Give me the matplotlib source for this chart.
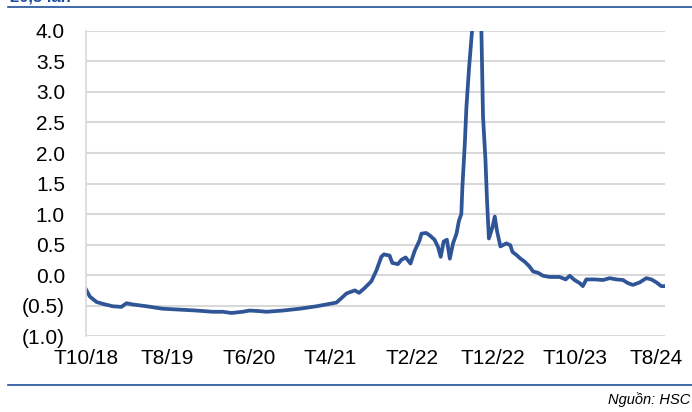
import matplotlib
matplotlib.use('Agg')
import matplotlib.pyplot as plt
import pandas as pd
from matplotlib.ticker import FuncFormatter

plt.rcParams['font.family'] = ['Liberation Sans', 'DejaVu Sans']

# P/E premium (x lan)
dates = [
    '2018-10-01', '2018-10-16', '2018-11-10', '2018-12-03', '2019-01-10', '2019-02-11',
    '2019-03-02', '2019-03-25', '2019-05-16', '2019-07-15', '2019-09-17', '2019-11-18',
    '2020-01-18', '2020-02-25', '2020-03-28', '2020-05-09', '2020-06-04', '2020-07-12',
    '2020-08-06', '2020-10-06', '2020-12-08', '2021-02-09', '2021-03-18', '2021-04-24',
    '2021-05-07', '2021-06-01', '2021-07-02', '2021-07-18', '2021-08-08', '2021-09-02',
    '2021-09-21', '2021-10-09', '2021-10-19', '2021-11-09', '2021-11-19', '2021-12-10',
    '2021-12-23', '2022-01-08', '2022-01-26', '2022-02-11', '2022-03-01', '2022-03-08',
    '2022-03-26', '2022-04-08', '2022-04-26', '2022-05-09', '2022-05-19', '2022-05-30',
    '2022-06-11', '2022-06-22', '2022-07-04', '2022-07-17', '2022-07-26', '2022-08-04',
    '2022-08-08', '2022-08-17', '2022-08-23', '2022-09-02', '2022-09-13', '2022-09-23',
    '2022-09-30', '2022-10-08', '2022-10-18', '2022-10-24', '2022-11-02', '2022-11-08',
    '2022-11-15', '2022-11-28', '2022-12-07', '2022-12-15', '2022-12-28', '2023-01-19',
    '2023-02-03', '2023-02-11', '2023-02-26', '2023-03-13', '2023-03-29', '2023-04-16',
    '2023-04-29', '2023-05-17', '2023-06-05', '2023-06-30', '2023-08-06', '2023-08-29',
    '2023-09-13', '2023-10-01', '2023-10-20', '2023-11-01', '2023-11-14', '2023-12-15',
    '2024-01-15', '2024-02-09', '2024-03-05', '2024-03-30', '2024-04-17', '2024-05-06',
    '2024-05-31', '2024-06-25', '2024-07-14', '2024-08-02', '2024-08-20', '2024-09-02',
]
values = [
    -0.23, -0.35, -0.44, -0.47, -0.51, -0.52,
    -0.46, -0.48, -0.51, -0.55, -0.565, -0.58,
    -0.60, -0.60, -0.62, -0.60, -0.58, -0.59,
    -0.60, -0.58, -0.55, -0.51, -0.48, -0.45,
    -0.40, -0.30, -0.25, -0.29, -0.21, -0.10,
    0.08, 0.30, 0.34, 0.32, 0.20, 0.18,
    0.25, 0.29, 0.19, 0.40, 0.57, 0.68,
    0.69, 0.65, 0.58, 0.46, 0.30, 0.55,
    0.58, 0.27, 0.52, 0.68, 0.89, 1.00,
    1.45, 2.15, 2.75, 3.40, 4.00, 9.00,
    20.5, 12.0, 4.00, 2.60, 1.90, 1.22,
    0.60, 0.78, 0.96, 0.73, 0.47, 0.52,
    0.49, 0.38, 0.33, 0.27, 0.22, 0.14,
    0.06, 0.04, -0.01, -0.03, -0.03, -0.07,
    -0.01, -0.08, -0.13, -0.18, -0.07, -0.07,
    -0.08, -0.05, -0.07, -0.08, -0.13, -0.16,
    -0.12, -0.05, -0.07, -0.12, -0.18, -0.18,
]
tick_dates = ['2018-10-01', '2019-08-01', '2020-06-01', '2021-04-01',
              '2022-02-01', '2022-12-01', '2023-10-01', '2024-08-01']
tick_labels = ['T10/18', 'T8/19', 'T6/20', 'T4/21', 'T2/22', 'T12/22', 'T10/23', 'T8/24']

x = pd.to_datetime(dates)

fig = plt.figure(figsize=(6.92, 4.12), dpi=100)
ax = fig.add_axes([0.124, 0.184, 0.837, 0.741])

ax.plot(x, values, color='#2F5597', linewidth=2.7, solid_joinstyle='round')

ax.set_ylim(-1.0, 4.0)
ax.set_yticks([-1.0, -0.5, 0.0, 0.5, 1.0, 1.5, 2.0, 2.5, 3.0, 3.5, 4.0])
ax.yaxis.set_major_formatter(FuncFormatter(
    lambda v, p: '(%.1f)' % abs(v) if v < 0 else '%.1f' % v))
ax.set_xlim(pd.Timestamp('2018-10-01'), pd.Timestamp('2024-09-03'))
ax.set_xticks(pd.to_datetime(tick_dates))
ax.set_xticklabels(tick_labels)

ax.grid(axis='y', color='#d9d9d9', linewidth=1.5)
ax.set_axisbelow(True)
for s in ['top', 'right', 'bottom']:
    ax.spines[s].set_visible(False)
ax.spines['left'].set_color('#d9d9d9')
ax.spines['left'].set_linewidth(1.2)
ax.tick_params(axis='both', length=0, labelsize=15, colors='black')
ax.tick_params(axis='y', pad=15)
ax.tick_params(axis='x', pad=9)

# header / footer rules and texts
fig.add_artist(plt.Line2D([8 / 692, 1.0], [1 - 7 / 412, 1 - 7 / 412],
                          color='#1F4E99', linewidth=1.2))
fig.add_artist(plt.Line2D([8 / 692, 1.0], [1 - 385 / 412, 1 - 385 / 412],
                          color='#1F4E99', linewidth=1.2))
fig.text(10 / 692, 1 - 1.5 / 412, '20,5 lần', color='#1F4E99', fontsize=12,
         fontweight='bold', va='baseline', ha='left')
fig.text(690 / 692, 1 - 400 / 412, 'Nguồn: HSC', fontsize=10.5, style='italic',
         ha='right', va='center')

fig.savefig('out.png', dpi=100)
